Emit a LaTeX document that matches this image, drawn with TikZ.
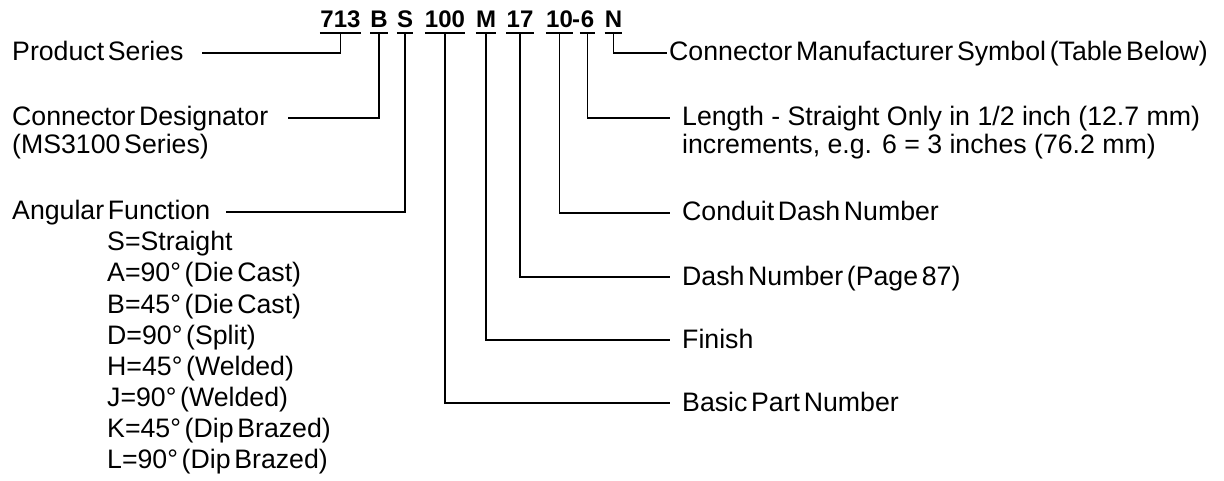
\documentclass[tikz,border=0pt]{standalone}
\usepackage{fontspec}
\setmainfont{Liberation Sans}[WordSpace=0.5]
\newfontfamily\widesp{Liberation Sans}
\usetikzlibrary{positioning}

\begin{document}
\begin{tikzpicture}[
  x=1pt, y=-1pt,
  lbl/.style={inner sep=0pt, anchor=west, text height=18pt, text depth=2pt, font=\fontsize{26.7}{30}\selectfont},
  code/.style={inner sep=0pt, anchor=base, text height=17pt, text depth=5pt, font=\fontsize{24}{28}\selectfont\bfseries},
  lead/.style={line width=1.6pt},
]
\useasboundingbox (0,0) rectangle (1224,481);
% part number
\node[code, minimum width=41pt] (c713) at (340.5,28) {713};
\node[code, minimum width=16pt] (cB) at (379,28) {B};
\node[code, minimum width=16pt] (cS) at (405,28) {S};
\node[code, minimum width=36pt] (c100) at (445,28) {100};
\node[code, minimum width=18pt] (cM) at (486,28) {M};
\node[code, minimum width=22pt] (c17) at (520,28) {17};
\node[code, minimum width=25pt] (c10) at (559.5,28) {10};
\node[code] (cdash) at (576.2,28) {-};
\node[code, minimum width=15pt] (c6) at (587.5,28) {6};
\node[code, minimum width=17pt] (cN) at (613.5,28) {N};
\foreach \n in {c713,cB,cS,c100,cM,c17,c10,c6,cN}
  \draw[lead] (\n.south west) -- (\n.south east);
% left side
\node[lbl] (ps) at (12,53) {Product Series};
\node[lbl] (cd) at (12,118) {Connector Designator};
\node[lbl] (cd2) at (12,146) {(MS3100 Series)};
\node[lbl] (af) at (12,212) {Angular Function};
\foreach \txt [count=\i from 0] in {S=Straight, A=90° (Die Cast), B=45° (Die Cast), D=90° (Split),
    H=45° (Welded), J=90° (Welded), K=45° (Dip Brazed), L=90° (Dip Brazed)}
  \node[lbl] (af\i) at (107,243+31*\i) {\txt};
% right side
\node[lbl] (mfr) at (669,53) {Connector Manufacturer Symbol (Table Below)};
\node[lbl] (len) at (682,118) {\widesp Length - Straight Only in 1/2 inch (12.7 mm)};
\node[lbl] (len2) at (682,146) {\widesp increments, e.g. 6 = 3 inches (76.2 mm)};
\node[lbl] (cond) at (682,213) {Conduit Dash Number};
\node[lbl] (dash) at (682,277) {Dash Number (Page 87)};
\node[lbl] (fin) at (682,340) {Finish};
\node[lbl] (bpn) at (682,403) {Basic Part Number};
% leads
\draw[lead] (c713.south) |- ([xshift=18pt]ps.east);
\draw[lead] (cB.south) |- ([xshift=20pt]cd.east);
\draw[lead] (cS.south) |- ([xshift=15pt]af.east);
\draw[lead] (cN.south) |- ([xshift=-2pt]mfr.west);
\draw[lead] (c6.south) |- ([xshift=-12pt]len.west);
\draw[lead] (c10.south) |- ([xshift=-12pt]cond.west);
\draw[lead] (c17.south) |- ([xshift=-12pt]dash.west);
\draw[lead] (cM.south) |- ([xshift=-12pt]fin.west);
\draw[lead] (c100.south) |- ([xshift=-12pt]bpn.west);
\end{tikzpicture}
\end{document}
